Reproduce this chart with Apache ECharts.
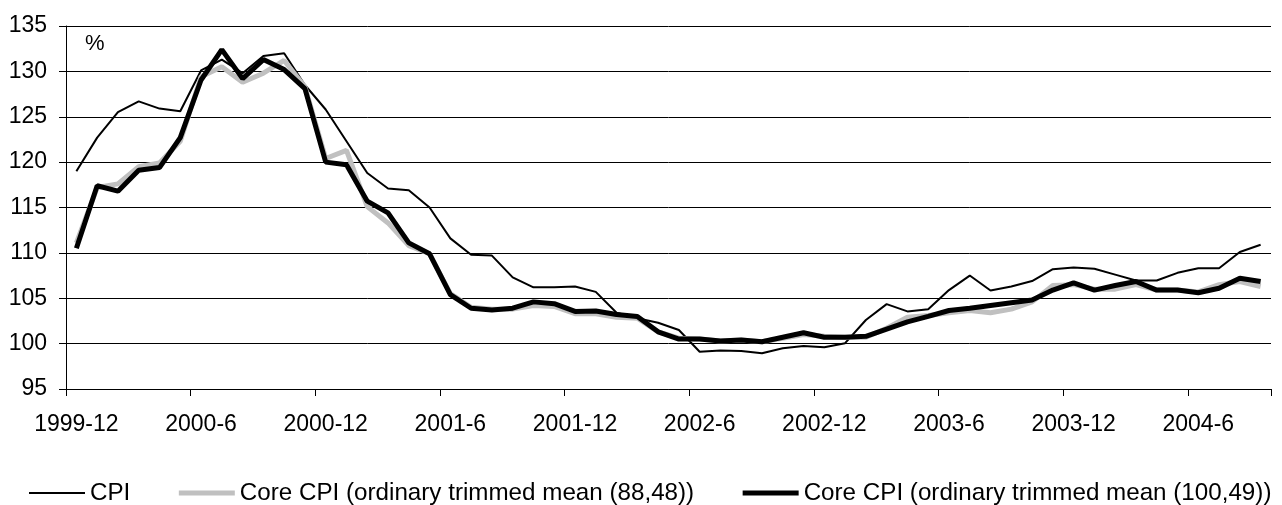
<!DOCTYPE html>
<html>
<head>
<meta charset="utf-8">
<script src="https://cdn.jsdelivr.net/npm/echarts@6/dist/echarts.min.js"></script>
<style>
    html, body {margin:0; padding:0; background:#fff;}
    #chart {width:1282px; height:505px;}
</style>
</head>
<body>
<div id="chart"></div>
<script>
    // months 1999-12 .. 2004-9
    var months = ['1999-12'];
    for (var y = 2000; y <= 2004; y++) {
        for (var m = 1; m <= 12; m++) {
            if (y == 2004 && m > 9) break;
            months.push(y + '-' + m);
        }
    }

    var cpi = [
        119.0, 122.7, 125.5, 126.7, 125.9, 125.6, 130.1, 131.3, 129.8, 131.7, 132.0, 128.5,
        125.8, 122.3, 118.8, 117.1, 116.9, 115.0, 111.6, 109.8, 109.7, 107.3, 106.2, 106.2,
        106.3, 105.7, 103.4, 102.8, 102.3, 101.5, 99.1, 99.25, 99.2, 98.95, 99.5, 99.75,
        99.6, 100.05, 102.6, 104.35, 103.55, 103.8, 105.9, 107.5, 105.85, 106.3, 106.9, 108.2,
        108.4, 108.25, 107.6, 106.95, 106.95, 107.8, 108.3, 108.3, 110.1, 110.9
    ];
    var core8848 = [
        111.1, 117.2, 117.6, 119.5, 119.9, 122.3, 129.4, 130.5, 128.8, 129.8, 131.2, 128.3,
        120.4, 121.3, 115.1, 113.3, 110.8, 109.9, 105.5, 104.0, 103.8, 103.8, 104.2, 104.1,
        103.3, 103.3, 102.9, 102.8, 101.3, 100.6, 100.5, 100.3, 100.4, 100.2, 100.6, 101.0,
        100.8, 100.7, 100.7, 101.7, 102.9, 103.1, 103.4, 103.65, 103.4, 103.8, 104.6, 106.4,
        106.5, 106.0, 106.0, 106.5, 105.9, 105.9, 105.7, 106.5, 106.85, 106.3
    ];
    var core10049 = [
        110.5, 117.4, 116.8, 119.1, 119.4, 122.7, 129.05, 132.4, 129.2, 131.3, 130.2, 128.1,
        120.0, 119.7, 115.7, 114.4, 111.1, 109.9, 105.4, 103.9, 103.7, 103.9, 104.6, 104.4,
        103.55, 103.6, 103.2, 103.0, 101.3, 100.5, 100.5, 100.3, 100.4, 100.2, 100.7, 101.2,
        100.7, 100.7, 100.8, 101.6, 102.4, 103.0, 103.65, 103.9, 104.2, 104.5, 104.8, 105.9,
        106.7, 105.9, 106.4, 106.85, 105.9, 105.9, 105.6, 106.1, 107.2, 106.85
    ];
    var seriesNames = ['CPI', 'Core CPI (ordinary trimmed mean (88,48))', 'Core CPI (ordinary trimmed mean (100,49))'];

    var font = '"Liberation Sans", Arial, sans-serif';
    var myChart = echarts.init(document.getElementById('chart'));

    var option = {
        animation: false,
        backgroundColor: '#fff',
        textStyle: {fontFamily: font, color: '#000'},
        title: {
            text: '%',
            left: 85,
            top: 33,
            padding: 0,
            textStyle: {fontFamily: font, fontSize: 22, fontWeight: 'normal', color: '#000'}
        },
        grid: {left: 66, right: 11, top: 26, bottom: 116, containLabel: false},
        legend: {
            left: 28,
            top: 481,
            width: 1254,
            padding: 0,
            itemGap: 46,
            itemWidth: 56,
            itemHeight: 14,
            itemStyle: {opacity: 0},
            textStyle: {fontFamily: font, fontSize: 24.2, color: '#000'},
            data: [
                {name: seriesNames[0], lineStyle: {width: 2}},
                {name: seriesNames[1], lineStyle: {width: 5}},
                {name: seriesNames[2], lineStyle: {width: 5}}
            ]
        },
        xAxis: {
            type: 'category',
            data: months,
            boundaryGap: true,
            axisLine: {lineStyle: {color: '#000', width: 1}},
            axisTick: {
                show: true,
                length: 7,
                interval: function (i) { return i % 6 === 0; },
                lineStyle: {color: '#000'}
            },
            axisLabel: {interval: 5, margin: 24, fontSize: 23, color: '#000', fontFamily: font},
            splitLine: {show: false}
        },
        yAxis: {
            type: 'value',
            min: 95,
            max: 135,
            interval: 5,
            axisLine: {show: true, lineStyle: {color: '#000', width: 1}},
            axisTick: {show: true, length: 7, lineStyle: {color: '#000'}},
            axisLabel: {margin: 19, fontSize: 23, color: '#000', fontFamily: font},
            splitLine: {show: true, lineStyle: {color: '#000', width: 1}}
        },
        series: [
            {
                name: seriesNames[0],
                type: 'line',
                data: cpi,
                symbol: 'none',
                lineStyle: {color: '#000', width: 2},
                itemStyle: {color: '#000'},
                z: 2
            },
            {
                name: seriesNames[1],
                type: 'line',
                data: core8848,
                symbol: 'none',
                lineStyle: {color: '#c0c0c0', width: 5},
                itemStyle: {color: '#c0c0c0'},
                z: 3
            },
            {
                name: seriesNames[2],
                type: 'line',
                data: core10049,
                symbol: 'none',
                lineStyle: {color: '#000', width: 5},
                itemStyle: {color: '#000'},
                z: 4
            }
        ]
    };

    myChart.setOption(option);
    window.addEventListener('resize', function () {myChart.resize();})
</script>
</body>
</html>
